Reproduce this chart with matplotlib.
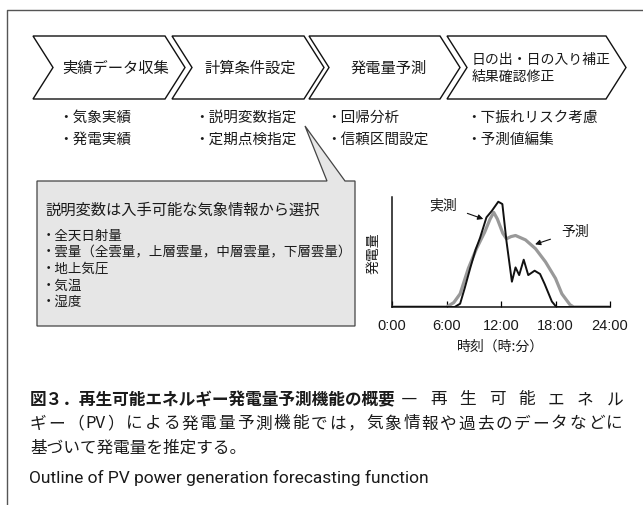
import re
import matplotlib
matplotlib.use("Agg")
import matplotlib.pyplot as plt
from matplotlib.patches import Polygon

plt.rcParams['font.family'] = ['Noto Sans CJK JP', 'DejaVu Sans']

# process flow
steps = ["実績データ収集", "計算条件設定", "発電量予測", "日の出・日の入り補正\n結果確認修正"]
step_notes = [["気象実績", "発電実績"],
              ["説明変数指定", "定期点検指定"],
              ["回帰分析", "信頼区間設定"],
              ["下振れリスク考慮", "予測値編集"]]

# explanatory variables box
callout_title = "説明変数は入手可能な気象情報から選択"
callout_items = ["全天日射量", "雲量（全雲量，上層雲量，中層雲量，下層雲量）", "地上気圧", "気温", "湿度"]

# daily PV output, actual vs forecast (relative units)
hours_actual = [0, 6.9, 7.5, 8.0, 8.6, 9.2, 9.7, 10.4, 11.0, 11.7, 12.15, 12.6, 13.2, 13.6,
                14.0, 14.5, 15.0, 15.7, 16.3, 16.8, 17.6, 18.1, 24]
power_actual = [0, 0, 0.03, 0.17, 0.35, 0.52, 0.63, 0.815, 0.875, 0.957, 0.936, 0.60, 0.23, 0.36,
                0.29, 0.43, 0.29, 0.33, 0.30, 0.21, 0.05, 0, 0]
hours_forecast = [0, 6.0, 6.8, 7.5, 8.4, 9.3, 10.2, 10.8, 11.2, 11.6, 12.2, 12.6, 13.1, 13.6,
                  14.7, 15.8, 16.9, 18.0, 18.7, 19.6, 20.0, 24]
power_forecast = [0, 0, 0.04, 0.12, 0.35, 0.53, 0.68, 0.80, 0.86, 0.80, 0.67, 0.62, 0.64, 0.65,
                  0.61, 0.53, 0.41, 0.26, 0.12, 0.02, 0, 0]
hour_ticks = [0, 6, 12, 18, 24]
hour_labels = ["0:00", "6:00", "12:00", "18:00", "24:00"]

caption_head = "図３．再生可能エネルギー発電量予測機能の概要"
caption_lines = ["―再生可能エネル",
                 "ギー（PV）による発電量予測機能では，気象情報や過去のデータなどに",
                 "基づいて発電量を推定する。"]
caption_en = "Outline of PV power generation forecasting function"

TXT = "#1a1a1a"

fig = plt.figure(figsize=(6.43, 5.06), dpi=100)
ax = fig.add_axes([0, 0, 1, 1])
ax.set_xlim(0, 643)
ax.set_ylim(506, 0)
ax.axis("off")
renderer = fig.canvas.get_renderer()

# outer frame (left and top only)
ax.plot([7, 7, 643], [506, 11, 11], color="#555555", lw=1.0)

# chevrons
lefts = [33, 172, 309, 447]
rights = [165, 304, 440, 606]
top, bot, d = 37, 100, 20
mid = (top + bot) / 2
for L, R in zip(lefts, rights):
    pts = [(L, top), (R, top), (R + d, mid), (R, bot), (L, bot), (L + d, mid)]
    ax.add_patch(Polygon(pts, closed=True, facecolor="white", edgecolor="#111111", lw=1.0))

step_x = [116, 250, 389]
for x, s in zip(step_x, steps[:3]):
    ax.text(x, mid, s, ha="center", va="center", fontsize=11, color=TXT)
ax.text(472, mid, steps[3], ha="left", va="center", fontsize=10, color=TXT, linespacing=1.2)

note_x = [58, 194, 326, 466]
for x, notes in zip(note_x, step_notes):
    for i, n in enumerate(notes):
        ax.text(x, 118 + 22 * i, "・" + n, ha="left", va="center", fontsize=10.5, color=TXT)

# callout box with pointer
box = [(37, 182), (327, 182), (305, 127), (345, 182), (355, 182), (355, 327), (37, 327)]
ax.add_patch(Polygon(box, closed=True, facecolor="#e6e6e6", edgecolor="#444444", lw=0.9))
ax.text(45, 210, callout_title, ha="left", va="center", fontsize=11, color=TXT)
for i, item in enumerate(callout_items):
    ax.text(42, 236 + 16.5 * i, "・" + item, ha="left", va="center", fontsize=9.7, color=TXT)


def spread_text(x0, x1, y, s, **kw):
    # one Text per glyph (ASCII runs kept together), spaced out to fill x0..x1
    tokens = re.findall(r"[!-~]+|.", s)
    arts = [ax.text(0, y, t, ha="left", va="center", **kw) for t in tokens]
    widths = [a.get_window_extent(renderer).width for a in arts]
    gap = (x1 - x0 - sum(widths)) / max(len(arts) - 1, 1)
    x = x0
    for a, w in zip(arts, widths):
        a.set_x(x)
        x += w + gap


# caption
head = ax.text(30, 400, caption_head, ha="left", va="center", fontsize=12,
               fontweight="bold", color=TXT)
head_end = head.get_window_extent(renderer).x1
spread_text(head_end + 5, 623, 400, caption_lines[0], fontsize=12, color=TXT)
spread_text(30, 623, 424, caption_lines[1], fontsize=12, color=TXT)
ax.text(30, 448, caption_lines[2], ha="left", va="center", fontsize=12, color=TXT)
ax.text(29, 478, caption_en, ha="left", va="center", fontsize=12.5, color=TXT,
        family=["Roboto", "DejaVu Sans"])

# PV output chart
cax = fig.add_axes([392 / 643, (506 - 308) / 506, 218 / 643, 110 / 506])
cax.plot(hours_forecast, power_forecast, color="#999999", lw=2.3, solid_joinstyle="round")
cax.plot(hours_actual, power_actual, color="#111111", lw=1.4)
cax.set_xlim(0, 24)
cax.set_ylim(0, 1)
cax.spines[["top", "right"]].set_visible(False)
for s in ["left", "bottom"]:
    cax.spines[s].set_color("#111111")
    cax.spines[s].set_linewidth(1.1)
cax.set_yticks([])
cax.set_xticks(hour_ticks, hour_labels)
cax.tick_params(axis="x", direction="in", length=4, width=0.9, pad=8, labelsize=10.5,
                labelcolor=TXT)
for lab in cax.get_xticklabels():
    lab.set_family(["Liberation Sans", "DejaVu Sans"])
cax.set_xlabel("時刻（時:分）", fontsize=10, color=TXT, labelpad=5)
cax.set_ylabel("発電量", fontsize=10, color=TXT, labelpad=8)
cax.patch.set_alpha(0)

arrow = dict(arrowstyle="-|>", color="#111111", lw=0.8, mutation_scale=8, shrinkA=6, shrinkB=0)
cax.annotate("実測", xy=(10.05, 0.80), xytext=(5.6, 0.93), ha="center", va="center",
             fontsize=10, color=TXT, arrowprops=arrow)
cax.annotate("予測", xy=(15.75, 0.57), xytext=(20.15, 0.69), ha="center", va="center",
             fontsize=10, color=TXT, arrowprops=arrow)

fig.savefig("out.png", dpi=100)
